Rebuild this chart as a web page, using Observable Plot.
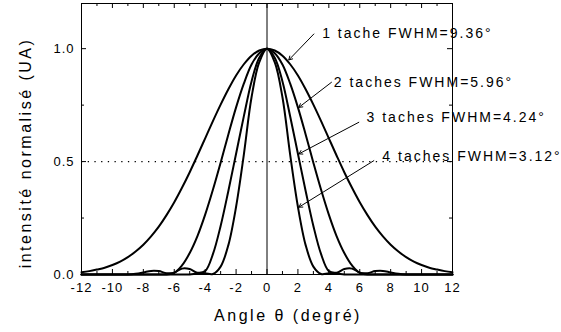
<!DOCTYPE html>
<html>
<head>
<meta charset="utf-8">
<script src="https://cdn.jsdelivr.net/npm/d3@7"></script>
<script src="https://cdn.jsdelivr.net/npm/@observablehq/plot@0.6"></script>
<style>
  html, body { margin: 0; padding: 0; background: #fff; }
  #chart svg { font-family: "Liberation Sans", Arial, sans-serif; }
  #chart svg g[aria-description="annotation"] text { letter-spacing: 2px; }
  #chart svg g[aria-description="axis-title"] text { letter-spacing: 2.5px; }
  #chart svg g[aria-label="x-axis tick label"] text,
  #chart svg g[aria-label="y-axis tick label"] text { letter-spacing: 1px; }
</style>
</head>
<body>
<div id="chart"></div>
<script>
// Half profiles (angle >= 0); curves are symmetric about 0
const angles = [0, 0.5, 1, 1.5, 2, 2.5, 3, 3.5, 4, 4.5, 5, 5.5, 6, 6.5, 7, 7.5, 8, 8.5, 9, 9.5, 10, 10.5, 11, 11.5, 12];
const tache1 = [1, 0.992, 0.969, 0.931, 0.881, 0.820, 0.752, 0.679, 0.603, 0.527, 0.453, 0.384, 0.320, 0.263, 0.212, 0.169, 0.132, 0.102, 0.077, 0.057, 0.042, 0.030, 0.022, 0.015, 0.010];
const taches2 = [1, 0.98, 0.93, 0.845, 0.74, 0.62, 0.495, 0.375, 0.265, 0.17, 0.095, 0.04, 0.008, 0.006, 0.015, 0.016, 0.009, 0.003, 0, 0, 0, 0, 0, 0, 0];
const taches3 = [1, 0.96, 0.855, 0.70, 0.535, 0.37, 0.215, 0.09, 0.015, 0.008, 0.024, 0.026, 0.008, 0, 0, 0, 0, 0, 0, 0, 0, 0, 0, 0, 0];
const taches4 = [1, 0.94, 0.785, 0.53, 0.30, 0.13, 0.035, 0.002, 0.005, 0.004, 0, 0, 0, 0, 0, 0, 0, 0, 0, 0, 0, 0, 0, 0, 0];
const seriesNames = ["1 tache", "2 taches", "3 taches", "4 taches"];

// Axis ticks
const xMajor = [-12, -10, -8, -6, -4, -2, 0, 2, 4, 6, 8, 10, 12];
const xMinor = [-11, -9, -7, -5, -3, -1, 1, 3, 5, 7, 9, 11];
const yMajor = [0, 0.5, 1.0];
const yMinor = [0.25, 0.75];
const halfMax = [0.5];
const xTitle = ["Angle θ (degré)"];
const yTitle = ["intensité normalisé (UA)"];

// Annotations (data units)
const labelTexts = ["1 tache FWHM=9.36°", "2 taches FWHM=5.96°", "3 taches FWHM=4.24°", "4 taches FWHM=3.12°"];
const labelX = [3.57, 4.32, 6.44, 7.46];
const labelY = [1.065, 0.851, 0.696, 0.522];
const arrowX1 = [3.03, 4.17, 5.94, 6.91];
const arrowY1 = [1.065, 0.851, 0.674, 0.504];
const arrowX2 = [1.41, 2.06, 2.06, 2.06];
const arrowY2 = [0.950, 0.740, 0.534, 0.298];

const curves = [tache1, taches2, taches3, taches4];
const rows = [];
curves.forEach((vals, k) => {
  for (let i = angles.length - 1; i > 0; i--) rows.push({s: seriesNames[k], x: -angles[i], y: vals[i]});
  for (let i = 0; i < angles.length; i++) rows.push({s: seriesNames[k], x: angles[i], y: vals[i]});
});
const labels = labelTexts.map((t, i) => ({t, x: labelX[i], y: labelY[i]}));
const arrows = labelTexts.map((t, i) => ({x1: arrowX1[i], y1: arrowY1[i], x2: arrowX2[i], y2: arrowY2[i]}));

const W = 561, H = 332, mL = 81, mR = 109, mT = 3, mB = 58;
const iw = W - mL - mR, ih = H - mT - mB;
const majorLen = 5, minorLen = 3;

const chart = Plot.plot({
  width: W, height: H,
  marginLeft: mL, marginRight: mR, marginTop: mT, marginBottom: mB,
  x: {domain: [-12, 12]},
  y: {domain: [0, 1.2]},
  style: {fontFamily: "'Liberation Sans', Arial, sans-serif", fontSize: "13px", color: "black", background: "white", overflow: "visible"},
  marks: [
    Plot.ruleY(halfMax, {y: d => d, stroke: "black", strokeWidth: 1.3, strokeDasharray: "1.3,5.4"}),
    Plot.ruleX([0], {x: d => d, stroke: "black", strokeWidth: 1}),
    Plot.line(rows, {x: "x", y: "y", z: "s", stroke: "black", strokeWidth: 2, curve: "catmull-rom"}),
    Plot.arrow(arrows, {x1: "x1", y1: "y1", x2: "x2", y2: "y2", stroke: "black", strokeWidth: 1, headLength: 6}),
    Plot.text(labels, {x: "x", y: "y", text: "t", textAnchor: "start", fontSize: 14, fill: "black", ariaDescription: "annotation"}),
    // inside ticks: bottom / top
    Plot.ruleX(xMajor, {x: d => d, insetTop: ih - majorLen, stroke: "black"}),
    Plot.ruleX(xMinor, {x: d => d, insetTop: ih - minorLen, stroke: "black"}),
    Plot.ruleX(xMajor, {x: d => d, insetBottom: ih - majorLen, stroke: "black"}),
    Plot.ruleX(xMinor, {x: d => d, insetBottom: ih - minorLen, stroke: "black"}),
    // inside ticks: left / right
    Plot.ruleY(yMajor, {y: d => d, insetRight: iw - majorLen, stroke: "black"}),
    Plot.ruleY(yMinor, {y: d => d, insetRight: iw - minorLen, stroke: "black"}),
    Plot.ruleY(yMajor, {y: d => d, insetLeft: iw - majorLen, stroke: "black"}),
    Plot.ruleY(yMinor, {y: d => d, insetLeft: iw - minorLen, stroke: "black"}),
    Plot.axisX({ticks: xMajor, tickSize: 0, tickPadding: 8, tickFormat: d => String(d), label: null, fontSize: 13}),
    Plot.axisY({ticks: yMajor, tickSize: 0, tickPadding: 7, tickFormat: d3.format(".1f"), label: null, fontSize: 13}),
    Plot.text(xTitle, {text: d => d, frameAnchor: "bottom", textAnchor: "middle", lineAnchor: "middle", dx: 21, dy: 41, fontSize: 16, fill: "black", ariaDescription: "axis-title"}),
    Plot.text(yTitle, {text: d => d, frameAnchor: "left", textAnchor: "middle", lineAnchor: "middle", rotate: -90, dx: -56, dy: 14, fontSize: 16, fill: "black", ariaDescription: "axis-title"}),
    Plot.frame({stroke: "black", strokeWidth: 1})
  ]
});
document.getElementById("chart").appendChild(chart);
</script>
</body>
</html>
